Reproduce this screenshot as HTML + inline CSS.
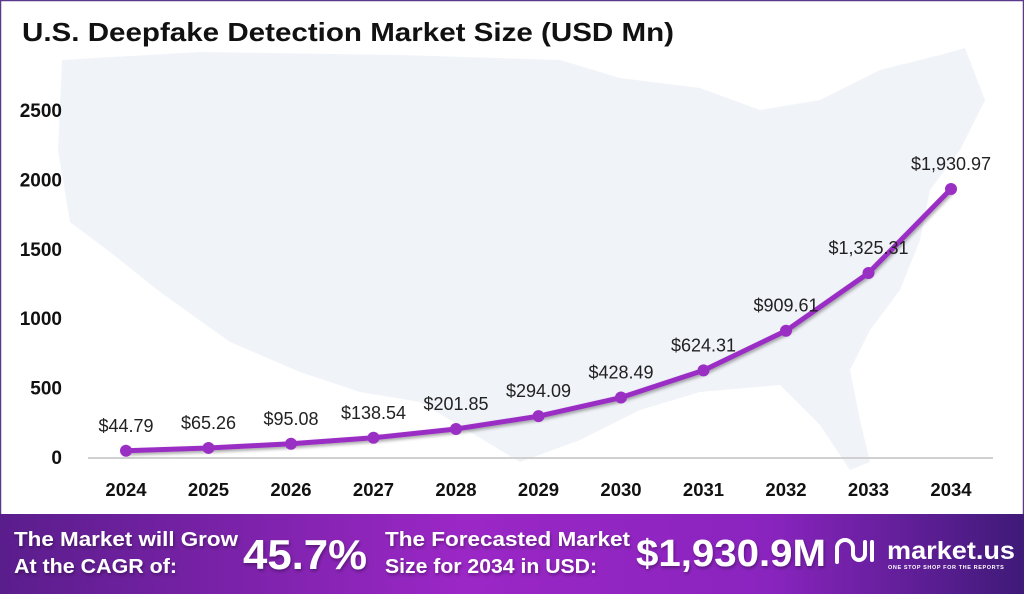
<!DOCTYPE html>
<html><head><meta charset="utf-8"><style>
html,body{margin:0;padding:0;background:#fff;}
#wrap{position:relative;width:1024px;height:594px;overflow:hidden;font-family:"Liberation Sans",sans-serif;}
svg{position:absolute;left:0;top:0;}
</style></head><body>
<div id="wrap">
<svg id="chart" width="1024" height="594" viewBox="0 0 1024 594">
<defs>
<linearGradient id="ban" x1="0" x2="1" y1="0" y2="0">
<stop offset="0" stop-color="#5a1d8c"/><stop offset="0.45" stop-color="#9b27c6"/><stop offset="0.75" stop-color="#8a24bf"/><stop offset="1" stop-color="#3f1a78"/>
</linearGradient>
<filter id="sh" x="-5%" y="-20%" width="110%" height="140%"><feDropShadow dx="1" dy="2" stdDeviation="1.5" flood-color="#000" flood-opacity="0.35"/></filter>
</defs>
<rect x="0.5" y="0.5" width="1023" height="593" fill="#fff" stroke="#5a3a8a" stroke-width="1.5"/>
<polygon fill="#f0f3f8" points="62,60 200,52 400,55 560,60 620,78 700,88 760,110 820,100 880,70 940,55 965,48 985,100 960,150 930,190 920,240 900,290 870,330 850,370 860,420 870,462 850,470 820,425 780,385 700,392 640,410 580,440 520,462 470,432 420,402 360,392 300,372 230,342 160,292 110,252 70,222 58,150"/>
<text x="22" y="41" font-size="26" font-weight="bold" fill="#111" textLength="652" lengthAdjust="spacingAndGlyphs">U.S. Deepfake Detection Market Size (USD Mn)</text>
<g id="axes"></g>
<g id="series"></g>
<rect x="0" y="514" width="1024" height="80" fill="url(#ban)"/>
<g fill="#fff" font-weight="bold" filter="url(#sh)">
<text x="14" y="546" font-size="20" textLength="224" lengthAdjust="spacingAndGlyphs">The Market will Grow</text>
<text x="14" y="573" font-size="20" textLength="163" lengthAdjust="spacingAndGlyphs">At the CAGR of:</text>
<text x="243" y="569" font-size="42" textLength="124" lengthAdjust="spacingAndGlyphs">45.7%</text>
<text x="385" y="546" font-size="20" textLength="245" lengthAdjust="spacingAndGlyphs">The Forecasted Market</text>
<text x="385" y="573" font-size="20" textLength="212" lengthAdjust="spacingAndGlyphs">Size for 2034 in USD:</text>
<text x="636" y="566" font-size="38" textLength="190" lengthAdjust="spacingAndGlyphs">$1,930.9M</text>
</g>
<g fill="none" stroke="#fff" stroke-width="4" stroke-linecap="round">
<path d="M837,562 v-14 a8,8 0 0 1 16,0 v6 a6,6 0 0 0 12,0 v-12"/>
<path d="M872,542 v18"/>
</g>
<text x="887" y="559" font-size="25" font-weight="bold" fill="#fff" textLength="128" lengthAdjust="spacingAndGlyphs">market.us</text>
<text x="888" y="569" font-size="5.5" font-weight="bold" fill="#fff" letter-spacing="0.6">ONE STOP SHOP FOR THE REPORTS</text>
</svg>
</div>
<script>
const categories = ["2024","2025","2026","2027","2028","2029","2030","2031","2032","2033","2034"];
const values = [44.79,65.26,95.08,138.54,201.85,294.09,428.49,624.31,909.61,1325.31,1930.97];
const valueLabels = ["$44.79","$65.26","$95.08","$138.54","$201.85","$294.09","$428.49","$624.31","$909.61","$1,325.31","$1,930.97"];
const yTicks = [0,500,1000,1500,2000,2500];

const NS="http://www.w3.org/2000/svg";
const x0=126, xStep=82.5, yBase=457, yTop=110, yMax=2500;
function xs(i){return x0+i*xStep;}
function ys(v){return yBase-(v/yMax)*(yBase-yTop);}
function mk(tag,attrs,parent){const e=document.createElementNS(NS,tag);for(const k in attrs)e.setAttribute(k,attrs[k]);parent.appendChild(e);return e;}
const axes=document.getElementById('axes'), series=document.getElementById('series');

const base=mk('line',{x1:88,x2:993,y1:yBase+1,y2:yBase+1,stroke:'#d0d0d0','stroke-width':2},axes);



yTicks.forEach(t=>{
  const tx=mk('text',{x:62,y:ys(t)+7,'text-anchor':'end','font-size':19,'font-weight':'bold',fill:'#111'},axes);
  tx.textContent=t;
  
  
});
categories.forEach((c,i)=>{
  const tx=mk('text',{x:xs(i),y:496,'text-anchor':'middle','font-size':18.5,'font-weight':'bold',fill:'#111'},axes);
  tx.textContent=c;
  
  
});

const pts=values.map((v,i)=>xs(i)+','+ys(v)).join(' ');
const line=mk('polyline',{points:pts,fill:'none',stroke:'#9a2fc4','stroke-width':5,'stroke-linejoin':'round',filter:'url(#sh)'},series);


values.forEach((v,i)=>{
  const c=mk('circle',{cx:xs(i),cy:ys(v),r:6,fill:'#9a2fc4'},series);
  
  
  const t=mk('text',{x:xs(i),y:ys(v)-19,'text-anchor':'middle','font-size':18,fill:'#222'},series);
  t.textContent=valueLabels[i];
  
  
});
</script>
</body></html>
